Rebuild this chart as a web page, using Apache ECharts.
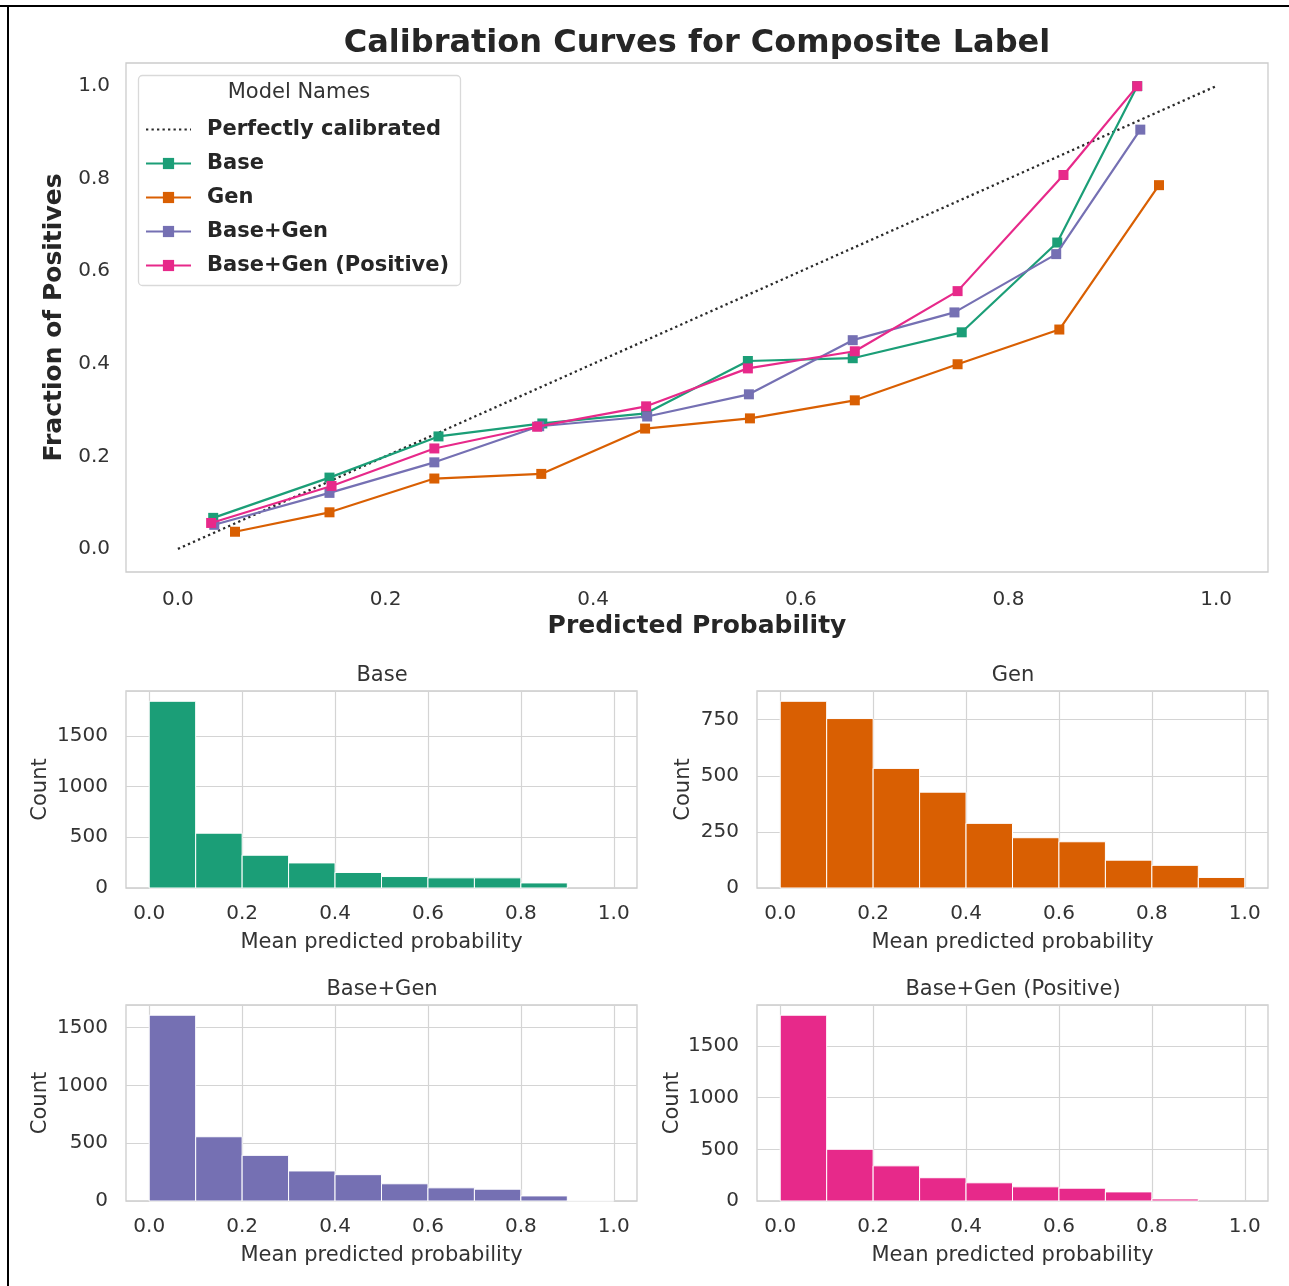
<!DOCTYPE html>
<html><head><meta charset="utf-8">
<script src="https://cdn.jsdelivr.net/npm/echarts@6/dist/echarts.min.js"></script>
<style>html,body{margin:0;padding:0;background:#fff}#c{width:1289px;height:1286px}</style>
</head><body><div id="c"></div>
<script>
// ---------- data ----------
const modelNames = ['Base', 'Gen', 'Base+Gen', 'Base+Gen (Positive)'];
const xTicks = [0, 0.2, 0.4, 0.6, 0.8, 1.0];
const yTicksMain = [0, 0.2, 0.4, 0.6, 0.8, 1.0];

const basePred = [0.034, 0.146, 0.251, 0.351, 0.451, 0.549, 0.650, 0.755, 0.847, 0.924];
const baseFrac = [0.067, 0.154, 0.243, 0.271, 0.293, 0.406, 0.412, 0.468, 0.662, 1.000];
const genPred = [0.055, 0.146, 0.247, 0.350, 0.450, 0.551, 0.652, 0.751, 0.849, 0.945];
const genFrac = [0.037, 0.079, 0.152, 0.162, 0.260, 0.282, 0.321, 0.399, 0.474, 0.786];
const bgPred = [0.035, 0.146, 0.247, 0.348, 0.452, 0.550, 0.650, 0.748, 0.846, 0.927];
const bgFrac = [0.052, 0.121, 0.187, 0.265, 0.286, 0.334, 0.451, 0.511, 0.637, 0.906];
const bgpPred = [0.032, 0.148, 0.247, 0.346, 0.451, 0.549, 0.652, 0.751, 0.853, 0.924];
const bgpFrac = [0.056, 0.136, 0.217, 0.264, 0.308, 0.390, 0.427, 0.557, 0.808, 1.000];

const binEdges = [0, 0.1, 0.2, 0.3, 0.4, 0.5, 0.6, 0.7, 0.8, 0.9, 1.0];
const baseCounts = [1840, 540, 323, 247, 153, 113, 100, 100, 50, 0];
const genCounts = [832, 755, 533, 427, 288, 224, 206, 124, 101, 47];
const bgCounts = [1608, 556, 395, 260, 228, 149, 114, 102, 44, 3];
const bgpCounts = [1797, 500, 340, 225, 176, 137, 124, 88, 20, 0];

const yTicksBase = [0, 500, 1000, 1500];
const yTicksGen = [0, 250, 500, 750];
const yTicksBg = [0, 500, 1000, 1500];
const yTicksBgp = [0, 500, 1000, 1500];

// ---------- style ----------
const colors = ['#1b9e77', '#d95f02', '#7570b3', '#e7298a'];
const FONT = 'DejaVu Sans';
const TXT = '#333333';
const GRIDC = '#d4d4d4';
const TICKFS = 20;

const pairs = (xs, ys) => xs.map((x, i) => [x, ys[i]]);
const calib = [pairs(basePred, baseFrac), pairs(genPred, genFrac), pairs(bgPred, bgFrac), pairs(bgpPred, bgpFrac)];
const hists = [baseCounts, genCounts, bgCounts, bgpCounts];
const histYTicks = [yTicksBase, yTicksGen, yTicksBg, yTicksBgp];

const grids = [
  {left: 126, top: 63, width: 1142, height: 509},
  {left: 126, top: 691, width: 511, height: 197},
  {left: 757, top: 691, width: 511, height: 197},
  {left: 126, top: 1005, width: 511, height: 196},
  {left: 757, top: 1005, width: 511, height: 196}
].map(g => Object.assign({show: true, borderColor: '#cccccc', borderWidth: 1.3, backgroundColor: '#fff'}, g));

const fmt1 = v => v.toFixed(1);
const xAxes = [{
  gridIndex: 0, type: 'value', min: -0.05, max: 1.05,
  axisLine: {show: false}, axisTick: {show: false, customValues: xTicks},
  axisLabel: {customValues: xTicks, formatter: fmt1, margin: 18, fontSize: TICKFS, color: TXT, fontFamily: FONT},
  splitLine: {show: false},
  name: 'Predicted Probability', nameLocation: 'middle', nameGap: 42,
  nameTextStyle: {fontSize: 25, fontWeight: 'bold', color: '#262626', fontFamily: FONT}
}];
const yAxes = [{
  gridIndex: 0, type: 'value', min: -0.05, max: 1.05,
  axisLine: {show: false}, axisTick: {show: false, customValues: yTicksMain},
  axisLabel: {customValues: yTicksMain, formatter: fmt1, margin: 16, fontSize: TICKFS, color: TXT, fontFamily: FONT},
  splitLine: {show: false},
  name: 'Fraction of Positives', nameLocation: 'middle', nameGap: 55,
  nameTextStyle: {fontSize: 25, fontWeight: 'bold', color: '#262626', fontFamily: FONT}
}];
const countGaps = [74.5, 62.5, 74.5, 73.5];
for (let i = 0; i < 4; i++) {
  xAxes.push({
    gridIndex: i + 1, type: 'value', min: -0.05, max: 1.05,
    axisLine: {show: false}, axisTick: {show: false, customValues: xTicks},
    axisLabel: {customValues: xTicks, formatter: fmt1, margin: 16, fontSize: TICKFS, color: TXT, fontFamily: FONT},
    splitLine: {show: true, lineStyle: {color: GRIDC, width: 1.2}},
    name: 'Mean predicted probability', nameLocation: 'middle', nameGap: 44.5,
    nameTextStyle: {fontSize: 21, color: TXT, fontFamily: FONT}
  });
  const step = histYTicks[i][1];
  yAxes.push({
    gridIndex: i + 1, type: 'value', min: 0, max: v => v.max * 1.055, interval: step,
    axisLine: {show: false}, axisTick: {show: false},
    axisLabel: {customValues: histYTicks[i], formatter: v => String(v), margin: 18, fontSize: TICKFS, color: TXT, fontFamily: FONT},
    splitLine: {show: true, lineStyle: {color: GRIDC, width: 1.2}},
    name: 'Count', nameLocation: 'middle', nameGap: countGaps[i],
    nameTextStyle: {fontSize: 21, color: TXT, fontFamily: FONT}
  });
}

const series = [{
  name: 'Perfectly calibrated', type: 'line', xAxisIndex: 0, yAxisIndex: 0,
  data: [[0, 0], [1, 1]], symbol: 'none', z: 1,
  lineStyle: {color: '#2a2a2a', width: 2.3, type: [2.3, 3.2]}, itemStyle: {color: '#2a2a2a'}
}];
modelNames.forEach((n, i) => {
  series.push({
    name: n, type: 'line', xAxisIndex: 0, yAxisIndex: 0, data: calib[i],
    symbol: 'rect', symbolSize: 10, z: 2 + i,
    lineStyle: {color: colors[i], width: 2.2}, itemStyle: {color: colors[i]}
  });
});
modelNames.forEach((n, i) => {
  const data = hists[i].map((c, k) => [binEdges[k], binEdges[k + 1], c]);
  series.push({
    type: 'custom', xAxisIndex: i + 1, yAxisIndex: i + 1, data: data,
    encode: {x: [0, 1], y: 2}, itemStyle: {color: colors[i]},
    renderItem: function (params, api) {
      const h = api.value(2);
      if (!(h > 0)) return null;
      const p0 = api.coord([api.value(0), h]);
      const p1 = api.coord([api.value(1), 0]);
      return {type: 'rect', shape: {x: p0[0], y: p0[1], width: p1[0] - p0[0], height: p1[1] - p0[1]},
        style: {fill: colors[i], stroke: '#ffffff', lineWidth: 1}};
    }
  });
});

const titles = [
  {text: 'Calibration Curves for Composite Label', left: 697, top: 28, textAlign: 'center', padding: 0,
    textStyle: {fontSize: 32, fontWeight: 'bold', color: '#262626', fontFamily: FONT}}
];
const subPos = [[382, 665], [1013, 665], [382, 979], [1013, 979]];
modelNames.forEach((n, i) => titles.push({
  text: n, left: subPos[i][0], top: subPos[i][1], textAlign: 'center', padding: 0,
  textStyle: {fontSize: 21, fontWeight: 'normal', color: TXT, fontFamily: FONT}
}));

const option = {
  animation: false,
  backgroundColor: '#ffffff',
  title: titles,
  grid: grids,
  xAxis: xAxes,
  yAxis: yAxes,
  legend: {
    data: [{name: 'Perfectly calibrated', itemStyle: {opacity: 0}}].concat(modelNames),
    orient: 'vertical', left: 145, top: 119, padding: 0,
    itemWidth: 45, itemHeight: 14, itemGap: 13,
    textStyle: {fontSize: 21, lineHeight: 20, fontWeight: 'bold', color: '#262626', fontFamily: FONT, padding: [0, 0, 0, 11]}
  },
  graphic: [
    {type: 'line', shape: {x1: 0, y1: 6, x2: 1289, y2: 6}, style: {stroke: '#000', lineWidth: 2}, z: 100},
    {type: 'line', shape: {x1: 8, y1: 6, x2: 8, y2: 1286}, style: {stroke: '#000', lineWidth: 2}, z: 100},
    {type: 'rect', shape: {x: 138.5, y: 75.5, width: 322, height: 210, r: 4},
      style: {fill: '#ffffff', stroke: '#d9d9d9', lineWidth: 1.3}, z: 0, zlevel: 0},
    {type: 'text', x: 299, y: 93, style: {text: 'Model Names', fontSize: 21, fontFamily: FONT, fill: TXT,
      textAlign: 'center', textVerticalAlign: 'middle'}, z: 100}
  ],
  series: series
};
const chart = echarts.init(document.getElementById('c'), null, {renderer: 'canvas'});
chart.setOption(option);
</script>
</body></html>
